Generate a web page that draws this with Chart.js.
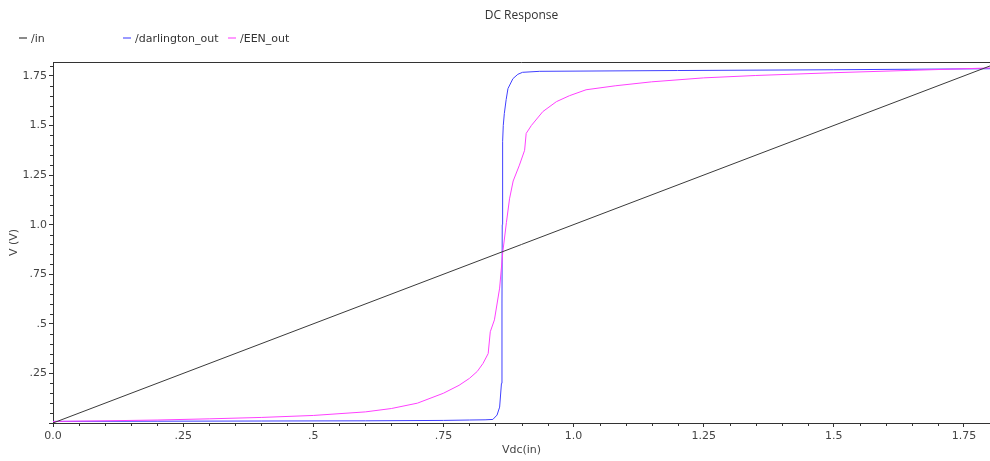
<!DOCTYPE html>
<html>
<head>
<meta charset="utf-8">
<script src="https://cdn.jsdelivr.net/npm/chart.js@4/dist/chart.umd.min.js"></script>
<style>
  body { margin:0; background:#fff; }
  #wrap { position:relative; width:990px; height:461px; }
  #title { position:absolute; top:6px; left:0; width:1043px; text-align:center;
           font:12px 'Open Sans', sans-serif; color:#333; }
  .leg { position:absolute; top:32px; font:11px 'DejaVu Sans', sans-serif; color:#333; white-space:nowrap; }
  .leg i { display:inline-block; width:8px; height:2px; margin-right:4px; vertical-align:middle; position:relative; top:-1px; }
</style>
</head>
<body>
<div id="wrap">
  <canvas id="c" width="990" height="461"></canvas>
  <div id="title">DC Response</div>
</div>
<script>
// sweep values (V) and node voltages (V)
const inX  = [0, 1.8];
const inY  = [0, 1.8];

const darX = [0, 0.2, 0.4, 0.6, 0.75, 0.80, 0.83, 0.845, 0.853, 0.858, 0.8615, 0.8625, 0.863, 0.8635, 0.864,
              0.865, 0.867, 0.8705, 0.874, 0.8835, 0.893, 0.902, 0.935, 1.2, 1.5, 1.8];
const darY = [0.008, 0.009, 0.010, 0.011, 0.013, 0.015, 0.016, 0.018, 0.04, 0.08, 0.2, 0.6, 1.0, 1.3, 1.42,
              1.50, 1.56, 1.63, 1.686, 1.736, 1.758, 1.768, 1.773, 1.777, 1.781, 1.786];

const eenX = [0, 0.1, 0.2, 0.3, 0.4, 0.5, 0.6, 0.65, 0.7, 0.75, 0.78, 0.80, 0.815, 0.826, 0.836, 0.840,
              0.848, 0.858, 0.864, 0.871, 0.877, 0.884, 0.896, 0.906, 0.909, 0.919, 0.941, 0.967, 0.992,
              1.024, 1.08, 1.15, 1.25, 1.35, 1.5, 1.65, 1.8];
const eenY = [0.008, 0.011, 0.015, 0.021, 0.028, 0.038, 0.056, 0.073, 0.10, 0.15, 0.19, 0.225, 0.26, 0.30, 0.35, 0.46,
              0.52, 0.68, 0.86, 1.01, 1.13, 1.22, 1.30, 1.375, 1.46, 1.50, 1.57, 1.62, 1.65,
              1.68, 1.70, 1.72, 1.74, 1.752, 1.766, 1.778, 1.79];

const names  = ['/in', '/darlington_out', '/EEN_out'];
const lineCl = ['#3a3a3a', '#4040ff', '#ff40ff'];
const legCl  = ['#8a8a8a', '#9a9aff', '#ff9aff'];
const legPos = [19, 123, 228];

const majorTicks = [0, 0.25, 0.5, 0.75, 1.0, 1.25, 1.5, 1.75];
const xTickText  = ['0.0', '.25', '.5', '.75', '1.0', '1.25', '1.5', '1.75'];
const yTickText  = ['', '.25', '.5', '.75', '1.0', '1.25', '1.5', '1.75'];
const MINOR = 0.05;

const pts = (xs, ys) => xs.map((x, i) => ({ x, y: ys[i] }));

// legend
names.forEach((n, i) => {
  const d = document.createElement('div');
  d.className = 'leg';
  d.style.left = legPos[i] + 'px';
  d.innerHTML = `<i style="background:${legCl[i]}"></i>${n}`;
  document.getElementById('wrap').appendChild(d);
});

// minor ticks + top frame line
const decor = {
  id: 'decor',
  afterDraw(chart) {
    const { ctx, chartArea: a, scales: { x, y } } = chart;
    ctx.save();
    ctx.strokeStyle = '#333';
    ctx.lineWidth = 1;
    ctx.beginPath();
    ctx.moveTo(a.left, a.top + 0.5); ctx.lineTo(a.right, a.top + 0.5);
    for (let v = 0; v <= x.max + 1e-9; v += MINOR) {
      if (Math.abs(v / 0.25 - Math.round(v / 0.25)) < 1e-6) continue;
      const px = Math.round(x.getPixelForValue(v)) + 0.5;
      ctx.moveTo(px, a.bottom); ctx.lineTo(px, a.bottom + 3);
    }
    for (let v = 0; v <= y.max + 1e-9; v += MINOR) {
      if (Math.abs(v / 0.25 - Math.round(v / 0.25)) < 1e-6) continue;
      const py = Math.round(y.getPixelForValue(v)) + 0.5;
      ctx.moveTo(a.left - 3, py); ctx.lineTo(a.left, py);
    }
    ctx.stroke();
    ctx.restore();
  }
};

const font = { family: 'DejaVu Sans', size: 11 };
const lbl = txt => v => { const i = majorTicks.findIndex(t => Math.abs(t - v) < 1e-6); return i < 0 ? '' : txt[i]; };

new Chart(document.getElementById('c'), {
  type: 'line',
  data: { datasets: [
    { label: names[0], data: pts(inX, inY),   borderColor: lineCl[0] },
    { label: names[2], data: pts(eenX, eenY), borderColor: lineCl[2] },
    { label: names[1], data: pts(darX, darY), borderColor: lineCl[1] },
  ]},
  options: {
    responsive: false, animation: false, devicePixelRatio: 1,
    elements: { line: { borderWidth: 1, tension: 0 }, point: { radius: 0 } },
    layout: { padding: { top: 62, left: 0, right: 0, bottom: 0 } },
    plugins: { legend: { display: false }, tooltip: { enabled: false } },
    scales: {
      x: {
        type: 'linear', min: 0, max: 1.8,
        afterFit: s => { s.height = 38; },
        afterBuildTicks: s => { s.ticks = majorTicks.map(v => ({ value: v })); },
        ticks: { color: '#444', font, padding: 3, maxRotation: 0, autoSkip: false, callback: lbl(xTickText) },
        grid: { drawOnChartArea: false, drawTicks: true, tickLength: 4, color: '#333' },
        border: { display: true, color: '#333' },
        title: { display: true, text: 'Vdc(in)', color: '#444', font, padding: { top: 4, bottom: 4 } },
      },
      y: {
        type: 'linear', min: 0, max: 1.82,
        afterFit: s => { s.width = 53; },
        afterBuildTicks: s => { s.ticks = majorTicks.map(v => ({ value: v })); },
        ticks: { color: '#444', font, padding: 2, autoSkip: false, callback: lbl(yTickText) },
        grid: { drawOnChartArea: false, drawTicks: true, tickLength: 4, color: '#333' },
        border: { display: true, color: '#333' },
        title: { display: true, text: 'V (V)', color: '#444', font, padding: { top: 8, bottom: 4 } },
      },
    },
  },
  plugins: [decor],
});
</script>
</body>
</html>
